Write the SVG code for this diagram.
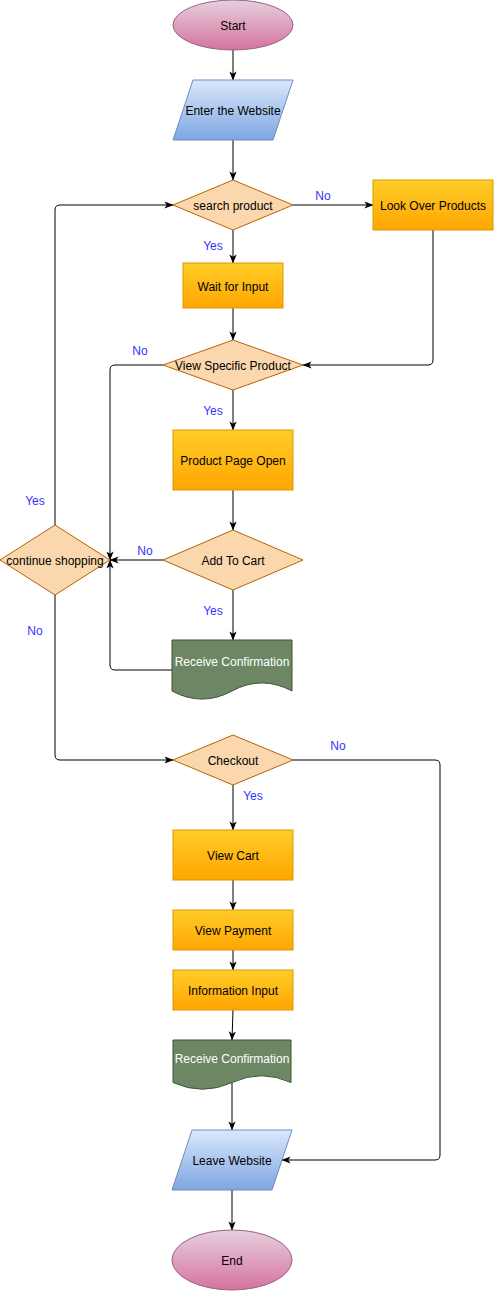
<svg xmlns="http://www.w3.org/2000/svg" width="494" height="1291" viewBox="0 0 494 1291">
<defs>
<linearGradient id="gOrange" x1="0" y1="0" x2="0" y2="1"><stop offset="0" stop-color="#ffcd28"/><stop offset="1" stop-color="#ffa500"/></linearGradient>
<linearGradient id="gBlue" x1="0" y1="0" x2="0" y2="1"><stop offset="0" stop-color="#dae8fc"/><stop offset="1" stop-color="#7ea6e0"/></linearGradient>
<linearGradient id="gPink" x1="0" y1="0" x2="0" y2="1"><stop offset="0" stop-color="#e6d0de"/><stop offset="1" stop-color="#d5739d"/></linearGradient>
<marker id="arr" markerUnits="userSpaceOnUse" viewBox="0 0 10 10" refX="9.5" refY="5" markerWidth="9" markerHeight="9" orient="auto">
<path d="M0,1 L10,5 L0,9 L2.5,5 z" fill="#000"/>
</marker>
<style>
.proc{fill:url(#gOrange);stroke:#d79b00;stroke-width:1}
.io{fill:url(#gBlue);stroke:#6c8ebf;stroke-width:1}
.term{fill:url(#gPink);stroke:#996185;stroke-width:1}
.dec{fill:#fad7ac;stroke:#b46504;stroke-width:1}
.doc{fill:#6d8764;stroke:#3a5431;stroke-width:1}
text{font-family:"Liberation Sans",Arial,Helvetica,sans-serif;font-size:12px;text-anchor:middle;dominant-baseline:central;fill:#000;transform:translateY(1px)}
.w{fill:#fff}
.lbl{fill:#3333ff}
.c{fill:none;stroke:#000;stroke-width:1;marker-end:url(#arr)}
</style>
</defs>

<g id="connectors">
<path class="c" d="M233,50 V80"/>
<path class="c" d="M233,140 V180"/>
<path class="c" d="M293,205 H373"/>
<path class="c" d="M233,230 V263"/>
<path class="c" d="M233,308 V340"/>
<path class="c" d="M433,230 V360 Q433,365 428,365 H303"/>
<path class="c" d="M233,390 V430"/>
<path class="c" d="M163,365 H115 Q110,365 110,370 V560"/>
<path class="c" d="M233,490 V530"/>
<path class="c" d="M163,560 H110"/>
<path class="c" d="M233,590 V640"/>
<path class="c" d="M172,670 H115 Q110,670 110,665 V560"/>
<path class="c" d="M55,525 V210 Q55,205 60,205 H173"/>
<path class="c" d="M55,595 V755 Q55,760 60,760 H173"/>
<path class="c" d="M293,760 H435 Q440,760 440,765 V1155 Q440,1160 435,1160 H282"/>
<path class="c" d="M233,785 V830"/>
<path class="c" d="M233,880 V910"/>
<path class="c" d="M233,950 V970"/>
<path class="c" d="M233,1010 L232,1040"/>
<path class="c" d="M232,1083 V1130"/>
<path class="c" d="M232,1190 V1230"/>
<text class="lbl" x="323" y="195">No</text>
<text class="lbl" x="213" y="245">Yes</text>
<text class="lbl" x="140" y="350">No</text>
<text class="lbl" x="213" y="410">Yes</text>
<text class="lbl" x="145" y="550">No</text>
<text class="lbl" x="213" y="610">Yes</text>
<text class="lbl" x="35" y="500">Yes</text>
<text class="lbl" x="35" y="630">No</text>
<text class="lbl" x="338" y="745">No</text>
<text class="lbl" x="253" y="795">Yes</text>
</g>

<g id="start"><ellipse class="term" cx="233" cy="25" rx="60" ry="25"/><text x="233" y="25">Start</text></g>
<g id="enter-website"><polygon class="io" points="193,80 293,80 273,140 173,140"/><text x="233" y="110">Enter the Website</text></g>
<g id="search-product"><polygon class="dec" points="233,180 293,205 233,230 173,205"/><text x="233" y="205">search product</text></g>
<g id="look-over"><rect class="proc" x="373" y="180" width="120" height="50"/><text x="433" y="205">Look Over Products</text></g>
<g id="wait-input"><rect class="proc" x="183" y="263" width="100" height="45"/><text x="233" y="285.5">Wait for Input</text></g>
<g id="view-specific"><polygon class="dec" points="233,340 303,365 233,390 163,365"/><text x="233" y="365">View Specific Product</text></g>
<g id="product-page"><rect class="proc" x="173" y="430" width="120" height="60"/><text x="233" y="460">Product Page Open</text></g>
<g id="add-to-cart"><polygon class="dec" points="233,530 303,560 233,590 163,560"/><text x="233" y="560">Add To Cart</text></g>
<g id="continue-shopping"><polygon class="dec" points="55,525 110,560 55,595 0,560"/><text x="55" y="560">continue shopping</text></g>
<g id="receive-1"><path class="doc" d="M172,640 H292 V691 Q262,674.8 232,691 Q202,707.2 172,691 Z"/><text class="w" x="232" y="661">Receive Confirmation</text></g>
<g id="checkout"><polygon class="dec" points="233,735 293,760 233,785 173,760"/><text x="233" y="760">Checkout</text></g>
<g id="view-cart"><rect class="proc" x="173" y="830" width="120" height="50"/><text x="233" y="855">View Cart</text></g>
<g id="view-payment"><rect class="proc" x="173" y="910" width="120" height="40"/><text x="233" y="930">View Payment</text></g>
<g id="info-input"><rect class="proc" x="173" y="970" width="120" height="40"/><text x="233" y="990">Information Input</text></g>
<g id="receive-2"><path class="doc" d="M173,1040 H291 V1082.5 Q261.5,1069 232,1082.5 Q202.5,1096 173,1082.5 Z"/><text class="w" x="232" y="1058">Receive Confirmation</text></g>
<g id="leave-website"><polygon class="io" points="192,1130 292,1130 272,1190 172,1190"/><text x="232" y="1160">Leave Website</text></g>
<g id="end"><ellipse class="term" cx="232" cy="1260" rx="60" ry="30"/><text x="232" y="1260">End</text></g>
</svg>
